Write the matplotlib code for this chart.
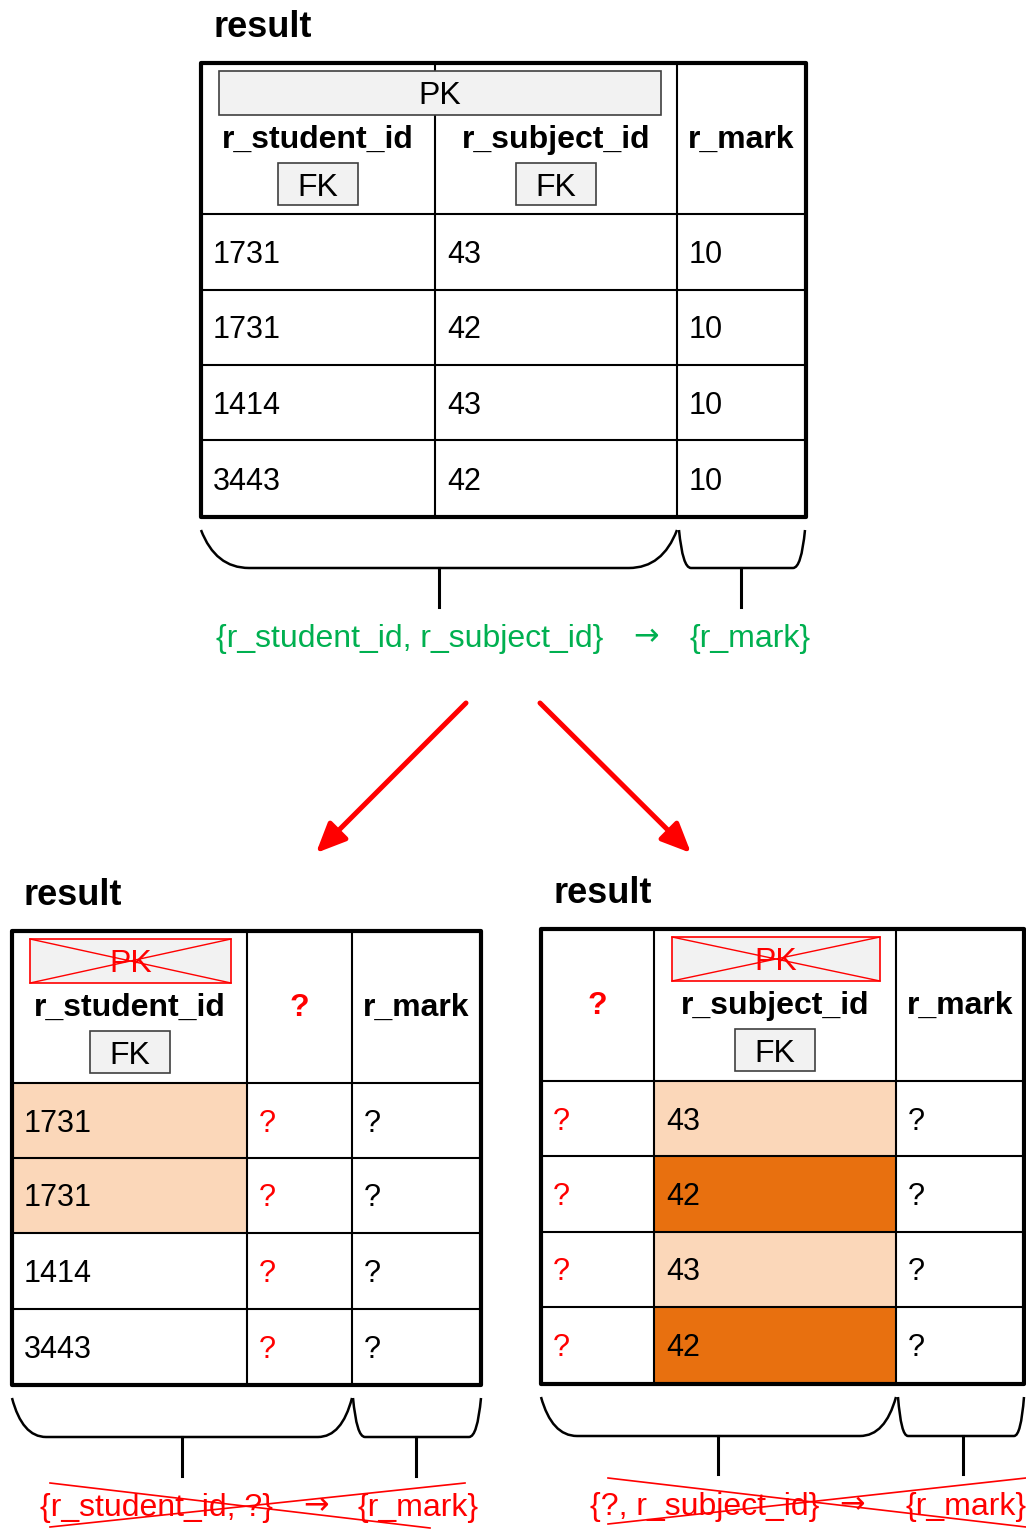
import matplotlib
matplotlib.use('Agg')
import matplotlib.pyplot as plt
from matplotlib.patches import Rectangle, PathPatch
from matplotlib.path import Path

plt.rcParams['font.family'] = ['Liberation Sans', 'DejaVu Sans']

RED = '#ff0000'
GREEN = '#00b050'
PEACH = '#fbd7b9'
ORANGE = '#e8700f'
KEY_FILL = '#f2f2f2'

# table contents
top_headers = ['r_student_id', 'r_subject_id', 'r_mark']
student_ids = ['1731', '1731', '1414', '3443']
subject_ids = ['43', '42', '43', '42']
marks = ['10', '10', '10', '10']
unknown = ['?', '?', '?', '?']

left_headers = ['r_student_id', '?', 'r_mark']
right_headers = ['?', 'r_subject_id', 'r_mark']

# shading of the remaining key column after the split
left_fill = [PEACH, PEACH, None, None]
right_fill = [PEACH, ORANGE, PEACH, ORANGE]

# functional dependency captions under the tables
top_fd = ['{r_student_id, r_subject_id}', '→', '{r_mark}']
left_fd = ['{r_student_id, ?}', '→', '{r_mark}']
right_fd = ['{?, r_subject_id}', '→', '{r_mark}']


def key_box(ax, x, y, w, h, label, crossed):
    ec = RED if crossed else '#404040'
    ax.add_patch(Rectangle((x, y), w, h, fc=KEY_FILL, ec=ec, lw=1.2, zorder=6))
    ax.text(x + w / 2, y + h / 2 + 11.5, label, ha='center', va='baseline',
            fontsize=23, color=RED if crossed else 'black', zorder=7)
    if crossed:
        ax.plot([x, x + w], [y, y + h], color=RED, lw=1.0, zorder=8)
        ax.plot([x, x + w], [y + h, y], color=RED, lw=1.0, zorder=8)


def draw_table(ax, xs, ys, headers, head_colors, columns, text_colors,
               fills, pk_span, pk_crossed, fk_cols):
    top = ys[0]
    ax.text(xs[0] + 12, top - 26, 'result', ha='left', va='baseline',
            fontsize=26, fontweight='bold')
    for c, col_fill in enumerate(fills):
        if col_fill is None:
            continue
        for r, fc in enumerate(col_fill):
            if fc:
                ax.add_patch(Rectangle((xs[c], ys[r + 1]), xs[c + 1] - xs[c],
                                       ys[r + 2] - ys[r + 1], fc=fc, ec='none', zorder=1))
    for x in xs[1:-1]:
        ax.plot([x, x], [ys[0], ys[-1]], color='black', lw=1.5, zorder=2)
    for y in ys[1:-1]:
        ax.plot([xs[0], xs[-1]], [y, y], color='black', lw=1.5, zorder=2)
    ax.add_patch(Rectangle((xs[0], ys[0]), xs[-1] - xs[0], ys[-1] - ys[0],
                           fill=False, ec='black', lw=3, joinstyle='round', zorder=4))
    for c, (h, hc) in enumerate(zip(headers, head_colors)):
        cx = (xs[c] + xs[c + 1]) / 2
        ax.text(cx, top + 85, h, ha='center', va='baseline', fontsize=23,
                fontweight='bold', color=hc, zorder=5)
    for c in fk_cols:
        cx = (xs[c] + xs[c + 1]) / 2
        key_box(ax, cx - 40, top + 100, 80, 42, 'FK', False)
    a, b = pk_span
    key_box(ax, xs[a] + 18, top + 8, xs[b] - xs[a] - 34, 44, 'PK', pk_crossed)
    for c, (col, tc) in enumerate(zip(columns, text_colors)):
        for r, val in enumerate(col):
            cy = (ys[r + 1] + ys[r + 2]) / 2
            ax.text(xs[c] + 12, cy + 11, val, ha='left', va='baseline',
                    fontsize=22, color=tc, zorder=5)


def brace(ax, x0, x1, ytop, ybot, r):
    verts = [(x0, ytop), (x0 + 0.3 * r, ybot), (x0 + r, ybot),
             (x1 - r, ybot), (x1 - 0.3 * r, ybot), (x1, ytop)]
    codes = [Path.MOVETO, Path.CURVE3, Path.CURVE3,
             Path.LINETO, Path.CURVE3, Path.CURVE3]
    ax.add_patch(PathPatch(Path(verts, codes), fill=False, lw=1.8, ec='black'))


def braces(ax, spans, ytop, ybot, stems, stem_bottom):
    for x0, x1, r in spans:
        brace(ax, x0, x1, ytop, ybot, r)
    for x in stems:
        ax.plot([x, x], [ybot, stem_bottom], color='black', lw=2.2)


def fd_caption(ax, parts, xs, y, color):
    ax.text(xs[0], y, parts[0], ha='left', va='baseline', fontsize=23, color=color)
    ax.text(xs[1], y - 2, parts[1], ha='center', va='baseline', fontsize=22,
            color=color, family='DejaVu Sans')
    ax.text(xs[2], y, parts[2], ha='left', va='baseline', fontsize=23, color=color)


fig = plt.figure(figsize=(10.26, 15.29), dpi=100)
ax = fig.add_axes([0, 0, 1, 1])
ax.set_xlim(0, 1026)
ax.set_ylim(1529, 0)
ax.axis('off')

# original table
draw_table(ax, [201, 435, 677, 806], [63, 214, 290, 365, 440, 517],
           top_headers, ['black'] * 3,
           [student_ids, subject_ids, marks], ['black'] * 3,
           [None, None, None], (0, 2), False, [0, 1])
braces(ax, [(201, 677, 48), (679, 805, 12)], 530, 568, [439, 741], 607)
fd_caption(ax, top_fd, [216, 646, 690], 647, GREEN)

# split arrows
for start, end in [((466, 703), (316, 853)), ((540, 703), (691, 853))]:
    ax.annotate('', xy=end, xytext=start,
                arrowprops=dict(arrowstyle='-|>,head_length=0.45,head_width=0.2',
                                color=RED, lw=3.6, mutation_scale=40,
                                shrinkA=0, shrinkB=0, capstyle='round'))

# left result table
draw_table(ax, [12, 247, 352, 481], [931, 1083, 1158, 1233, 1309, 1385],
           left_headers, ['black', RED, 'black'],
           [student_ids, unknown, unknown], ['black', RED, 'black'],
           [left_fill, None, None], (0, 1), True, [0])
braces(ax, [(12, 352, 34), (353, 481, 12)], 1398, 1437, [182, 416], 1476)
fd_caption(ax, left_fd, [40, 316, 358], 1516, RED)
ax.plot([50, 430], [1483, 1528], color=RED, lw=1.2)
ax.plot([50, 465], [1527, 1483], color=RED, lw=1.2)

# right result table
draw_table(ax, [541, 654, 896, 1024], [929, 1081, 1156, 1232, 1307, 1384],
           right_headers, [RED, 'black', 'black'],
           [unknown, subject_ids, unknown], [RED, 'black', 'black'],
           [None, right_fill, None], (1, 2), True, [1])
braces(ax, [(541, 896, 36), (898, 1024, 10)], 1397, 1436, [718, 963], 1474)
fd_caption(ax, right_fd, [590, 852, 905], 1515, RED)
ax.plot([608, 1026], [1478, 1527], color=RED, lw=1.2)
ax.plot([608, 1026], [1524, 1478], color=RED, lw=1.2)

fig.savefig('out.png', dpi=100)
